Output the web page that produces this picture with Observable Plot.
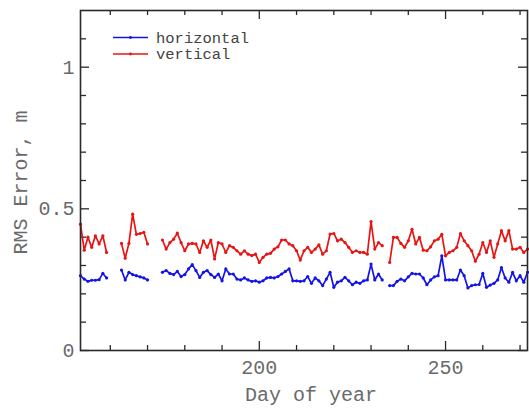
<!DOCTYPE html>
<html>
<head>
<meta charset="utf-8">
<script src="https://cdn.jsdelivr.net/npm/d3@7"></script>
<script src="https://cdn.jsdelivr.net/npm/@observablehq/plot@0.6"></script>
<style>
  html, body { margin: 0; padding: 0; background: #fff; }
  #chart { position: relative; width: 529px; height: 410px; }
</style>
</head>
<body>
<div id="chart"></div>
<script>
// ---- data (day of year 152..272, null = no data) ----
const firstDay = 152;
const seriesNames = ["horizontal", "vertical"];
const seriesColors = ["#1414e6", "#e81414"];
const horizontal = [
  0.264, 0.252, 0.244, 0.248, 0.248, 0.250, 0.272, 0.256,
  null, null, null,
  0.284, 0.249, 0.276, 0.268, 0.264, 0.260, 0.256, 0.249,
  null, null, null,
  0.276, 0.282, 0.272, 0.268, 0.279, 0.261, 0.268, 0.288, 0.303, 0.282,
  0.258, 0.276, 0.282, 0.268, 0.258, 0.270, 0.246, 0.288, 0.270, 0.270,
  0.252, 0.249, 0.256, 0.249, 0.244, 0.246, 0.241, 0.246, 0.256, 0.258,
  0.256, 0.261, 0.270, 0.279, 0.288, 0.246, 0.246, 0.244, 0.246, 0.261,
  0.237, 0.256, 0.246, 0.229, 0.252, 0.276, 0.223, 0.241, 0.246, 0.258,
  0.246, 0.232, 0.241, 0.237, 0.246, 0.249, 0.305, 0.249, 0.270, 0.249,
  null,
  0.229, 0.229, 0.244, 0.252, 0.246, 0.260, 0.272, 0.270, 0.270, 0.256,
  0.232, 0.249, 0.260, 0.264, 0.334, 0.249, 0.249, 0.249, 0.249, 0.284,
  0.264, 0.221, 0.229, 0.232, 0.233, 0.272, 0.223, 0.231, 0.237, 0.249,
  0.293, 0.256, 0.241, 0.276, 0.246, 0.264, 0.241, 0.276
];
const vertical = [
  0.446, 0.354, 0.400, 0.364, 0.405, 0.376, 0.405, 0.346,
  null, null, null,
  0.378, 0.326, 0.378, 0.481, 0.410, 0.413, 0.417, 0.376,
  null, null, null,
  0.390, 0.358, 0.381, 0.393, 0.414, 0.381, 0.352, 0.376, 0.378, 0.376,
  0.346, 0.387, 0.364, 0.390, 0.323, 0.381, 0.376, 0.346, 0.370, 0.364,
  0.352, 0.340, 0.352, 0.340, 0.335, 0.340, 0.311, 0.329, 0.340, 0.343,
  0.358, 0.366, 0.390, 0.390, 0.376, 0.370, 0.352, 0.319, 0.352, 0.364,
  0.346, 0.358, 0.373, 0.340, 0.352, 0.411, 0.413, 0.387, 0.393, 0.381,
  0.364, 0.346, 0.352, 0.346, 0.346, 0.340, 0.455, 0.358, 0.381, 0.370,
  null,
  0.311, 0.399, 0.399, 0.378, 0.364, 0.387, 0.428, 0.376, 0.399, 0.354,
  0.352, 0.366, 0.387, 0.393, 0.410, 0.334, 0.346, 0.352, 0.364, 0.413,
  0.387, 0.370, 0.352, 0.315, 0.340, 0.381, 0.346, 0.387, 0.329, 0.376,
  0.423, 0.387, 0.423, 0.358, 0.358, 0.364, 0.346, 0.358
];
const xDomain = [152, 272];
const yDomain = [0, 1.2];
const xTickLabels = [200, 250];
const xMinorTicks = [160, 170, 180, 190, 210, 220, 230, 240, 260, 270];
const yTickLabels = [0, 0.5, 1];
const yMinorTicks = [0.1, 0.2, 0.3, 0.4, 0.6, 0.7, 0.8, 0.9, 1.1];
const xLabel = "Day of year";
const yLabel = "RMS Error, m";

// ---- layout ----
const W = 529, H = 410;
const mL = 80, mR = 2, mT = 10, mB = 60;
const pxPerY = (H - mT - mB) / (yDomain[1] - yDomain[0]);
const pxPerX = (W - mL - mR) / (xDomain[1] - xDomain[0]);
const font = "'Liberation Mono', 'DejaVu Sans Mono', monospace";
const txt = "#6a6a6a";
const ink = "#2a2a2a";

const rows = [];
[horizontal, vertical].forEach((arr, k) => {
  arr.forEach((v, i) => rows.push({day: firstDay + i, value: v == null ? NaN : v, series: seriesNames[k]}));
});
const pts = rows.filter(d => !isNaN(d.value));

const majLen = 9, minLen = 5;
const yMaj = majLen / pxPerY, yMin = minLen / pxPerY;
const xMaj = majLen / pxPerX, xMin = 6 / pxPerX;

const plot = Plot.plot({
  width: W, height: H,
  marginLeft: mL, marginRight: mR, marginTop: mT, marginBottom: mB,
  style: {fontFamily: font, fontSize: "20px", background: "#fff", color: ink},
  x: {domain: xDomain},
  y: {domain: yDomain},
  color: {domain: seriesNames, range: seriesColors},
  marks: [
    // inward ticks: bottom & top
    Plot.ruleX(xTickLabels, {y1: yDomain[0], y2: yDomain[0] + yMaj, stroke: ink, strokeWidth: 1.3}),
    Plot.ruleX(xMinorTicks, {y1: yDomain[0], y2: yDomain[0] + yMin, stroke: ink, strokeWidth: 1.3}),
    Plot.ruleX(xTickLabels, {y1: yDomain[1], y2: yDomain[1] - yMaj, stroke: ink, strokeWidth: 1.3}),
    Plot.ruleX(xMinorTicks, {y1: yDomain[1], y2: yDomain[1] - yMin, stroke: ink, strokeWidth: 1.3}),
    // inward ticks: left & right
    Plot.ruleY(yTickLabels, {x1: xDomain[0], x2: xDomain[0] + xMaj, stroke: ink, strokeWidth: 1.3}),
    Plot.ruleY(yMinorTicks, {x1: xDomain[0], x2: xDomain[0] + xMin, stroke: ink, strokeWidth: 1.3}),
    Plot.ruleY(yTickLabels, {x1: xDomain[1], x2: xDomain[1] - xMaj, stroke: ink, strokeWidth: 1.3}),
    Plot.ruleY(yMinorTicks, {x1: xDomain[1], x2: xDomain[1] - xMin, stroke: ink, strokeWidth: 1.3}),
    Plot.axisX({ticks: xTickLabels, tickSize: 0, tickPadding: 9, label: null, fill: txt, tickFormat: d => String(d)}),
    Plot.axisY({ticks: yTickLabels, tickSize: 0, tickPadding: 6, label: null, fill: txt, tickFormat: d => String(d)}),
    Plot.line(rows, {x: "day", y: "value", z: "series", stroke: "series", strokeWidth: 1.7}),
    Plot.dot(pts, {x: "day", y: "value", fill: "series", r: 1.6}),
    Plot.frame({stroke: ink, strokeWidth: 1.6}),
    Plot.text([xLabel], {frameAnchor: "bottom", textAnchor: "middle", lineAnchor: "middle", dx: 7, dy: 44, fill: txt, fontSize: 20}),
    Plot.text([yLabel], {frameAnchor: "left", textAnchor: "middle", lineAnchor: "middle", dx: -60, dy: 2, rotate: -90, fill: txt, fontSize: 20})
  ]
});

// legend (inside the plot, top-left)
const svg = d3.select(plot);
const lg = svg.append("g").attr("font-family", font).attr("font-size", 15.5).attr("text-anchor", "start");
seriesNames.forEach((name, i) => {
  const y = 37.5 + i * 16.5;
  lg.append("line").attr("x1", 113).attr("x2", 148).attr("y1", y).attr("y2", y)
    .attr("stroke", seriesColors[i]).attr("stroke-width", 1.5);
  lg.append("circle").attr("cx", 130.5).attr("cy", y).attr("r", 1.4).attr("fill", seriesColors[i]);
  lg.append("text").attr("x", 156).attr("y", y).attr("dy", "0.35em").attr("fill", "#444")
    .attr("text-anchor", "start").text(name);
});

document.getElementById("chart").appendChild(plot);
</script>
</body>
</html>
